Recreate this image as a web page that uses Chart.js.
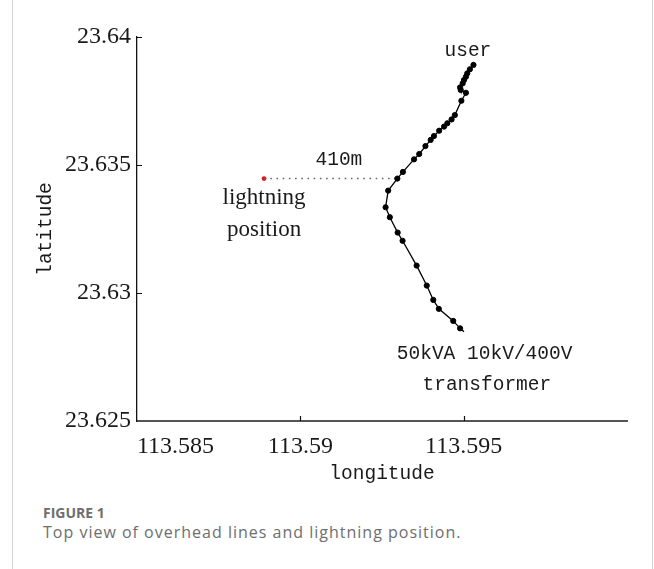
<!DOCTYPE html>
<html>
<head>
<meta charset="utf-8">
<script src="https://cdn.jsdelivr.net/npm/chart.js@4.4.1/dist/chart.umd.min.js"></script>
<style>
  html, body { margin: 0; padding: 0; background: #fff; }
  body { width: 654px; height: 569px; position: relative; overflow: hidden; }
  #frame { position: absolute; left: 12px; top: 0; width: 639px; height: 569px;
           border-left: 1px solid #d4d4d4; border-right: 1px solid #d4d4d4; }
  #plot { position: absolute; left: 0; top: 0; }
  #caption { position: absolute; left: 43px; top: 504px; font-family: "Open Sans", sans-serif; color: #6e6e6e; }
  #caption .fig { font-weight: 700; font-size: 14px; line-height: 18px; }
  #caption .txt { font-size: 16px; line-height: 21px; letter-spacing: 1px; }
</style>
</head>
<body>
<div id="frame"></div>
<canvas id="plot" width="654" height="500"></canvas>
<div id="caption">
  <div class="fig">FIGURE 1</div>
  <div class="txt">Top view of overhead lines and lightning position.</div>
</div>

<script>
// overhead line, from the user end down to the transformer
const lineLon = [113.59530, 113.59519, 113.59511, 113.59507, 113.59501, 113.59497, 113.59489, 113.59491,
                 113.59507, 113.59493, 113.59473, 113.59463, 113.59450, 113.59440, 113.59425, 113.59409,
                 113.59399, 113.59383, 113.59364, 113.59348, 113.59314, 113.59297, 113.59269, 113.59261,
                 113.59274, 113.59298, 113.59313, 113.59356, 113.59387, 113.59407, 113.59424, 113.59468,
                 113.59489, 113.59501];
const lineLat = [23.63891, 23.63874, 23.63858, 23.63845, 23.63832, 23.63819, 23.63803, 23.63793,
                 23.63782, 23.63751, 23.63695, 23.63678, 23.63663, 23.63650, 23.63634, 23.63613,
                 23.63598, 23.63574, 23.63543, 23.63522, 23.63473, 23.63447, 23.63400, 23.63335,
                 23.63296, 23.63236, 23.63204, 23.63107, 23.63029, 23.62973, 23.62938, 23.62891,
                 23.62862, 23.62849];

// lightning strike and the line point it is measured to
const lightningLon = 113.58889;
const lightningLat = 23.63447;
const nearestIndex = 21;

const xTicks = [113.585, 113.59, 113.595, 113.6];
const xTickLabels = ['113.585', '113.59', '113.595', ''];
const yTicks = [23.625, 23.63, 23.635, 23.64];
const yTickLabels = ['23.625', '23.63', '23.635', '23.64'];

const MONO = '"Liberation Mono", "DejaVu Sans Mono", monospace';
const SERIF = '"Liberation Serif", "DejaVu Serif", serif';

// text notes, placed in data space
const notes = [
    { text: 'user', lon: 113.59513, lat: 23.63945, font: '19.5px ' + MONO },
    { text: '410m', lon: 113.59118, lat: 23.63520, font: '19.5px ' + MONO },
    { text: 'lightning', lon: 113.58889, lat: 23.63370, font: '23px ' + SERIF },
    { text: 'position', lon: 113.58889, lat: 23.63245, font: '23px ' + SERIF },
    { text: '50kVA 10kV/400V', lon: 113.59564, lat: 23.62762, font: '19.5px ' + MONO },
    { text: 'transformer', lon: 113.59571, lat: 23.62641, font: '19.5px ' + MONO }
];

const linePoints = lineLon.map((lon, i) => ({ x: lon, y: lineLat[i] }));

// inward tick marks and the text notes
const decorPlugin = {
    id: 'decor',
    afterDraw(chart) {
        const { ctx, chartArea, scales: { x, y } } = chart;
        ctx.save();
        ctx.strokeStyle = '#111';
        ctx.lineWidth = 1.2;
        ctx.beginPath();
        xTicks.forEach((v, i) => {
            if (i === 0 || !xTickLabels[i]) return;
            const px = Math.round(x.getPixelForValue(v)) + 0.5;
            ctx.moveTo(px, chartArea.bottom);
            ctx.lineTo(px, chartArea.bottom - 5);
        });
        yTicks.forEach((v, i) => {
            if (i === 0) return;
            const py = Math.round(y.getPixelForValue(v)) + 0.5;
            ctx.moveTo(chartArea.left, py);
            ctx.lineTo(chartArea.left + 5, py);
        });
        ctx.stroke();

        ctx.fillStyle = '#1a1a1a';
        ctx.textAlign = 'center';
        ctx.textBaseline = 'middle';
        notes.forEach(n => {
            ctx.font = n.font;
            ctx.fillText(n.text, x.getPixelForValue(n.lon), y.getPixelForValue(n.lat));
        });
        ctx.restore();
    }
};

new Chart(document.getElementById('plot'), {
    type: 'scatter',
    data: {
        datasets: [{
            data: linePoints,
            showLine: true,
            borderColor: '#000',
            borderWidth: 1.3,
            pointRadius: linePoints.map((p, i) => i === linePoints.length - 1 ? 0 : 2.6),
            pointBorderWidth: 1,
            pointBackgroundColor: '#000',
            pointBorderColor: '#000'
        }, {
            data: [{ x: lightningLon, y: lightningLat }, { x: lineLon[nearestIndex], y: lightningLat }],
            showLine: true,
            borderColor: '#666',
            borderWidth: 1.4,
            borderDash: [1.6, 4.6],
            pointRadius: 0
        }, {
            data: [{ x: lightningLon, y: lightningLat }],
            pointRadius: 2.4,
            pointBorderWidth: 0,
            pointBackgroundColor: '#e3131b'
        }]
    },
    options: {
        responsive: false,
        animation: false,
        events: [],
        layout: { padding: { left: 0, right: 27, top: 37, bottom: 0 } },
        plugins: { legend: { display: false }, tooltip: { enabled: false } },
        scales: {
            x: {
                type: 'linear',
                min: xTicks[0],
                max: xTicks[xTicks.length - 1],
                afterBuildTicks: s => { s.ticks = xTicks.map(v => ({ value: v })); },
                afterFit: s => { s.height = 79; },
                grid: { display: false, drawTicks: false },
                border: { display: true, color: '#555', width: 2 },
                ticks: {
                    align: 'inner',
                    padding: 11,
                    color: '#1a1a1a',
                    font: { family: SERIF, size: 24 },
                    callback: (v, i) => xTickLabels[i]
                },
                title: {
                    display: true,
                    text: 'longitude',
                    color: '#1a1a1a',
                    font: { family: MONO, size: 19.5 },
                    padding: { top: 0, bottom: 14 }
                }
            },
            y: {
                type: 'linear',
                min: yTicks[0],
                max: yTicks[yTicks.length - 1],
                afterBuildTicks: s => { s.ticks = yTicks.map(v => ({ value: v })); },
                afterFit: s => { s.width = 137; },
                grid: { display: false, drawTicks: false },
                border: { display: true, color: '#111', width: 1.3 },
                ticks: {
                    padding: 6,
                    color: '#1a1a1a',
                    font: { family: SERIF, size: 24 },
                    callback: (v, i) => yTickLabels[i]
                },
                title: {
                    display: true,
                    text: 'latitude',
                    color: '#1a1a1a',
                    font: { family: MONO, size: 19.5 },
                    padding: { top: 34, bottom: 0 }
                }
            }
        }
    },
    plugins: [decorPlugin]
});
</script>
</body>
</html>
